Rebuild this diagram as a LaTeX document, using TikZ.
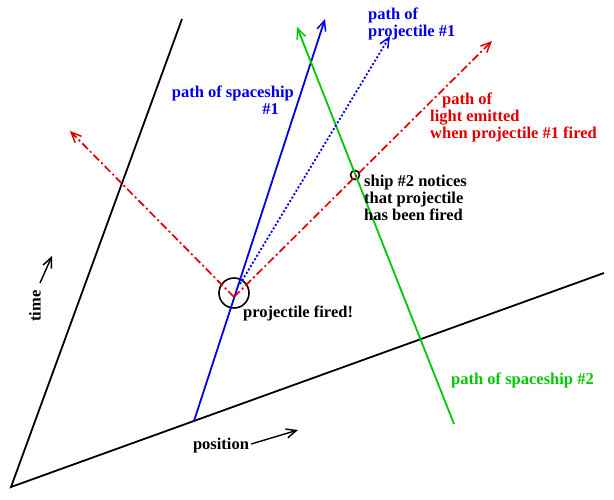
\documentclass[tikz,border=0pt]{standalone}
\usepackage{fontspec}
\setmainfont{Liberation Serif}
\usetikzlibrary{arrows.meta}
\definecolor{sblue}{RGB}{0,0,230}
\definecolor{sgreen}{RGB}{0,200,0}
\definecolor{sred}{RGB}{225,0,0}
\tikzset{
  axis/.style={black, line width=1.8pt},
  tip/.style={-{Straight Barb[length=10pt,width=9pt,line width=1.5pt]}},
  ship/.style={line width=1.8pt},
  proj/.style={sblue, line width=1.8pt, dash pattern=on 2pt off 2pt},
  light/.style={sred, line width=1.7pt, dash pattern=on 8pt off 3pt on 2pt off 3pt},
  lbl/.style={font=\fontsize{16.5}{17}\selectfont\bfseries, inner sep=0pt},
  event/.style={circle, draw=black, line width=1.6pt, inner sep=0pt, fill=none},
}
\begin{document}
\begin{tikzpicture}[x=1pt,y=-1pt]
\useasboundingbox (0,0) rectangle (614,499);
% axes
\coordinate (O) at (11,487);
\coordinate (T) at (182,19);
\coordinate (P) at (604,273);
\draw[axis] (T) -- (O) -- (P);
% events
\node[event, minimum size=30pt] (F) at (234,293) {};
\node[event, minimum size=9pt] (E) at (355,175) {};
\coordinate (Fv) at (234,297);
% spaceship 1
\coordinate (B0) at (194,421);
\coordinate (B1) at (325,19);
\draw[ship, sblue, tip] (B0) -- (B1);
% spaceship 2
\coordinate (G0) at (454,424);
\coordinate (G1) at (297,27);
\draw[ship, sgreen, tip] (G0) -- (G1);
% projectile
\coordinate (D0) at (240,284);
\coordinate (D1) at (390,36);
\draw[proj, tip] (D0) -- (D1);
% light
\coordinate (R1) at (492,41);
\coordinate (L1) at (70,131);
\draw[light, tip] (Fv) -- (R1);
\draw[light, tip] (Fv) -- (L1);
% time / position arrows
\coordinate (ta) at (40,283);
\coordinate (tb) at (52,256);
\draw[line width=1.4pt, tip] (ta) -- (tb);
\node[lbl, rotate=90] (time) at (35,306) {time};
\node[lbl] (pos) at (221,446) {position};
\coordinate (pb) at (298,430);
\draw[line width=1.4pt, tip] (pos.east) ++(2pt,2pt) coordinate (pa) (pa) -- (pb);
% labels
\node[lbl, sblue, align=right, anchor=north east] (s1) at (294,86) {path of spaceship\\\#1\hspace*{15pt}};
\node[lbl, sblue, align=left, anchor=north west] (p1) at (368,8) {path of\\projectile \#1};
\node[lbl, sred, align=left, anchor=north west] (l1) at (430,93) {\hspace*{12pt}path of\\light emitted\\when projectile \#1 fired};
\node[lbl, align=left, anchor=north west] (n2) at (364,175) {ship \#2 notices\\that projectile\\has been fired};
\node[lbl, anchor=west] (pf) at (243,313) {projectile fired!};
\node[lbl, sgreen, anchor=west] (s2) at (451,380) {path of spaceship \#2};
\end{tikzpicture}
\end{document}
